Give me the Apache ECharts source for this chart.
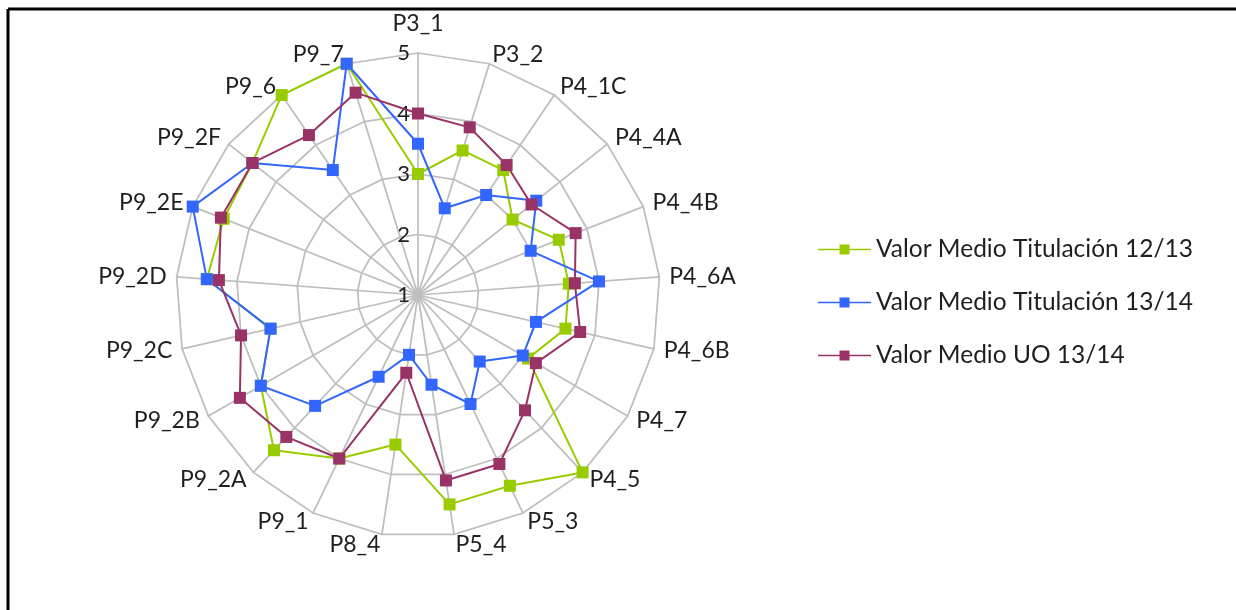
<!DOCTYPE html>
<html><head><meta charset="utf-8">
<script src="https://cdn.jsdelivr.net/npm/echarts@6/dist/echarts.min.js"></script>
<style>html,body{margin:0;padding:0;background:#fff}#c{width:1236px;height:610px}</style>
</head><body><div id="c"></div>
<script>
// Categories in clockwise order starting at the top
const categories = ['P3_1','P3_2','P4_1C','P4_4A','P4_4B','P4_6A','P4_6B','P4_7','P4_5','P5_3','P5_4','P8_4','P9_1','P9_2A','P9_2B','P9_2C','P9_2D','P9_2E','P9_2F','P9_6','P9_7'];
const seriesNames = ['Valor Medio Titulación 12/13','Valor Medio Titulación 13/14','Valor Medio UO 13/14'];
const valorTitulacion1213 = [3.0,3.5,3.5,3.0,3.5,3.5,3.5,3.1,5.0,4.5,4.5,3.5,4.0,4.5,4.0,3.5,4.5,4.45,4.5,5.0,5.0];
const valorTitulacion1314 = [3.5,2.5,3.0,3.5,3.0,4.0,3.0,3.0,2.5,3.0,2.5,2.0,2.5,3.5,4.0,3.5,4.5,5.0,4.5,3.5,5.0];
const valorUO1314        = [4.0,3.9,3.6,3.4,3.8,3.6,3.75,3.25,3.6,4.1,4.1,2.3,4.0,4.2,4.4,4.0,4.3,4.5,4.5,4.2,4.5];
const tickValues = [1,2,3,4,5];

const colors = ['#99CC00','#3366FF','#993366'];
const n = categories.length;
// ECharts lays radar indicators counter-clockwise; reorder so they run clockwise
const order = [0].concat(categories.map((_, i) => n - 1 - i).slice(0, n - 1));
const axisMin = tickValues[0], axisMax = tickValues[tickValues.length - 1];
const font = 'Lato';
const textColor = '#1f1f1f';

const indicator = order.map(i => {
  const ind = { name: categories[i], min: axisMin, max: axisMax };
  if (i === 0) ind.axisLabel = { show: true, color: textColor, fontFamily: font, fontSize: 22, margin: 8, showMinLabel: true, showMaxLabel: true };
  return ind;
});
const allValues = [valorTitulacion1213, valorTitulacion1314, valorUO1314];

const chart = echarts.init(document.getElementById('c'), null, { renderer: 'canvas' });
chart.setOption({
  backgroundColor: '#ffffff',
  animation: false,
  graphic: [
    { type: 'line', shape: { x1: 8, y1: 9, x2: 1236, y2: 9 }, style: { stroke: '#000', lineWidth: 3 } },
    { type: 'line', shape: { x1: 8, y1: 9, x2: 8, y2: 610 }, style: { stroke: '#000', lineWidth: 3 } }
  ],
  legend: {
    orient: 'vertical',
    left: 813,
    top: 232,
    itemGap: 28,
    itemWidth: 53,
    itemHeight: 10,
    icon: 'path://M0,4.3H53V5.7H0Z M21.5,0H31.5V10H21.5Z',
    textStyle: { fontFamily: font, fontSize: 24.5, color: textColor, lineHeight: 25 },
    data: seriesNames
  },
  radar: {
    center: [418, 295],
    radius: 242,
    shape: 'polygon',
    splitNumber: tickValues.length - 1,
    axisName: {
      color: textColor, fontFamily: font, fontSize: 23,
      formatter: (name) => name === categories[0] ? '{top|' + name + '}' : name,
      rich: { top: { fontFamily: font, fontSize: 23, color: textColor, padding: [0, 0, 8, 0] } }
    },
    nameGap: 10,
    splitLine: { lineStyle: { color: '#bebebe', width: 1.75 } },
    axisLine: { lineStyle: { color: '#bebebe', width: 1.75 } },
    splitArea: { show: false },
    axisTick: { show: false },
    axisLabel: { show: false },
    indicator: indicator
  },
  series: [{
    type: 'radar',
    symbol: 'rect',
    symbolSize: 12,
    data: allValues.map((vals, k) => ({
      name: seriesNames[k],
      value: order.map(i => vals[i]),
      itemStyle: { color: colors[k] },
      lineStyle: { color: colors[k], width: 2 }
    }))
  }]
});
</script>
</body></html>
